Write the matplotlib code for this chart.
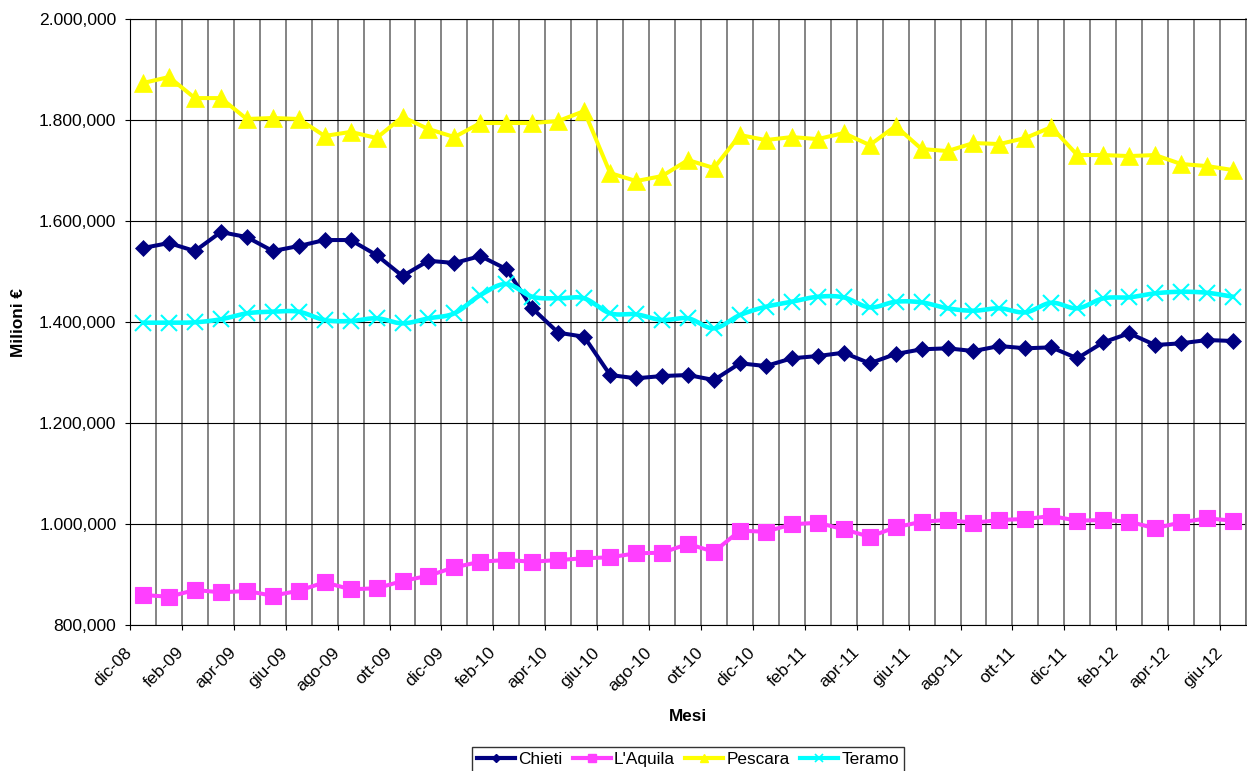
import numpy as np
import matplotlib
matplotlib.use('Agg')
import matplotlib.pyplot as plt
from matplotlib.lines import Line2D
from matplotlib.ticker import FuncFormatter

plt.rcParams['font.family'] = ['Liberation Sans', 'DejaVu Sans']

# one tick label every two months, dic-08 .. giu-12
tick_labels = ['dic-08', 'feb-09', 'apr-09', 'giu-09', 'ago-09', 'ott-09',
               'dic-09', 'feb-10', 'apr-10', 'giu-10', 'ago-10', 'ott-10',
               'dic-10', 'feb-11', 'apr-11', 'giu-11', 'ago-11', 'ott-11',
               'dic-11', 'feb-12', 'apr-12', 'giu-12']

# monthly values (milioni di euro), dic-08 .. giu-12
chieti = [1547.1, 1557.0, 1541.1, 1578.7, 1568.8, 1541.1, 1551.0, 1562.9, 1562.9, 1533.2,
          1491.6, 1521.9, 1517.4, 1531.2, 1505.5, 1427.7, 1379.4, 1371.4, 1295.6, 1289.1,
          1293.6, 1295.6, 1285.7, 1318.8, 1313.4, 1328.7, 1333.2, 1339.8, 1318.8, 1337.2,
          1346.5, 1348.5, 1343.1, 1353.0, 1348.5, 1350.4, 1328.7, 1360.3, 1378.2, 1355.0,
          1358.4, 1364.9, 1363.0]
laquila = [860.0, 856.6, 869.9, 865.3, 867.9, 858.6, 868.5, 885.1, 871.3, 873.3,
           887.7, 898.2, 914.8, 925.9, 929.3, 925.9, 929.3, 932.7, 934.6, 942.6,
           943.7, 961.0, 945.7, 987.3, 985.3, 1000.0, 1003.1, 990.1, 975.4, 994.0,
           1005.1, 1008.5, 1003.1, 1008.5, 1010.5, 1016.4, 1007.1, 1008.5, 1005.1, 992.1,
           1003.9, 1011.9, 1007.1]
pescara = [1873.8, 1885.7, 1844.0, 1844.0, 1802.6, 1804.6, 1802.6, 1769.0, 1777.0, 1765.0,
           1806.6, 1782.7, 1766.8, 1794.6, 1794.6, 1794.6, 1798.5, 1818.3, 1695.6, 1679.7,
           1689.6, 1721.3, 1705.5, 1770.8, 1760.9, 1766.8, 1762.8, 1774.8, 1751.0, 1788.6,
           1743.1, 1739.1, 1755.0, 1753.0, 1764.9, 1786.6, 1731.2, 1731.2, 1729.2, 1731.2,
           1713.4, 1709.4, 1701.5]
teramo = [1399.2, 1399.2, 1400.0, 1405.9, 1417.8, 1421.0, 1421.0, 1404.5, 1402.5, 1407.9,
          1398.0, 1407.9, 1417.8, 1454.0, 1475.8, 1450.6, 1447.5, 1447.5, 1417.8, 1415.8,
          1404.5, 1407.9, 1388.1, 1414.4, 1430.8, 1440.7, 1450.6, 1449.4, 1429.6, 1440.7,
          1439.5, 1427.7, 1422.9, 1427.7, 1419.7, 1438.7, 1427.7, 1447.5, 1449.4, 1457.4,
          1460.5, 1458.5, 1450.6]


def smooth(xs, ys, steps=16):
    # bezier smoothing like the spreadsheet "smoothed line" option
    px, py = [], []
    n = len(xs)
    for i in range(n - 1):
        i0, i3 = max(i - 1, 0), min(i + 2, n - 1)
        c1x = xs[i] + (xs[i + 1] - xs[i0]) / 6.0
        c1y = ys[i] + (ys[i + 1] - ys[i0]) / 6.0
        c2x = xs[i + 1] - (xs[i3] - xs[i]) / 6.0
        c2y = ys[i + 1] - (ys[i3] - ys[i]) / 6.0
        t = np.linspace(0, 1, steps, endpoint=(i == n - 2))
        a, b, c, d = (1 - t) ** 3, 3 * (1 - t) ** 2 * t, 3 * (1 - t) * t ** 2, t ** 3
        px.extend(a * xs[i] + b * c1x + c * c2x + d * xs[i + 1])
        py.extend(a * ys[i] + b * c1y + c * c2y + d * ys[i + 1])
    return px, py


x = np.arange(len(chieti)) + 0.5

fig = plt.figure(figsize=(12.47, 7.71), dpi=100)
ax = fig.add_axes([130 / 1247, 1 - 625.3 / 771, 1116 / 1247, (625.3 - 19.3) / 771])

navy, pink, yellow, cyan = '#000080', '#FF3FFF', '#FFFF00', '#00FFFF'

ax.plot(x, chieti, '-', color=navy, lw=2.9, marker='D', ms=7.8, mfc=navy, mec=navy, mew=0.5, zorder=3)
ax.plot(x, laquila, '-', color=pink, lw=2.9, marker='s', ms=11.5, mfc=pink, mec=pink, mew=0.8, zorder=3)
ax.plot(x, pescara, '-', color=yellow, lw=2.9, marker='^', ms=12.5, mfc=yellow, mec=yellow, mew=0.5, zorder=3)
sx, sy = smooth(x, teramo)
ax.plot(sx, sy, '-', color=cyan, lw=3.3, zorder=3)
ax.plot(x, teramo, linestyle='none', marker='x', ms=12, mec=cyan, mew=1.5, zorder=3)

ax.set_xlim(0, 43)
ax.set_ylim(800, 2000)
ax.set_yticks(np.arange(800, 2001, 200))
ax.yaxis.set_major_formatter(FuncFormatter(
    lambda v, p: f'{v:,.3f}'.replace(',', 'X').replace('.', ',').replace('X', '.')))
ax.set_xticks(np.arange(0, 43, 2))
ax.set_xticks(np.arange(0, 44, 1), minor=True)
ax.set_xticklabels(tick_labels, rotation=45, ha='right', va='center', rotation_mode='anchor')

ax.tick_params(axis='both', which='major', labelsize=12.6, length=3.8, width=0.8, color='black')
ax.tick_params(axis='x', which='major', pad=14)
ax.tick_params(axis='y', which='major', pad=6)
ax.tick_params(axis='x', which='minor', length=0)

ax.grid(axis='x', which='both', color='#707070', lw=1.2, zorder=0)
ax.grid(axis='y', which='major', color='black', lw=0.8, zorder=0)
ax.set_axisbelow(True)
for s in ['left', 'bottom', 'top']:
    ax.spines[s].set_color('black')
    ax.spines[s].set_linewidth(0.8)
ax.spines['right'].set_color('#707070')
ax.spines['right'].set_linewidth(1.2)

ax.set_xlabel('Mesi', fontsize=12.3, fontweight='bold')
ax.xaxis.set_label_coords(0.4996, -0.138)
ax.set_ylabel('Milioni €', fontsize=12.3, fontweight='bold')
ax.yaxis.set_label_coords(-0.093, 0.5)

handles = [
    Line2D([], [], color=navy, lw=3, marker='D', ms=4, mfc=navy, mec=navy),
    Line2D([], [], color=pink, lw=3, marker='s', ms=6, mfc=pink, mec=pink),
    Line2D([], [], color=yellow, lw=3, marker='^', ms=6, mfc=yellow, mec=yellow),
    Line2D([], [], color=cyan, lw=3, marker='x', ms=6, mec=cyan, mew=1.2),
]
leg = fig.legend(handles, ['Chieti', "L'Aquila", 'Pescara', 'Teramo'],
                 loc='upper center', bbox_to_anchor=(688 / 1247, 1 - 747 / 771),
                 ncol=4, fontsize=12.4, frameon=True, fancybox=False, shadow=False,
                 handlelength=2.2, handletextpad=0.2, columnspacing=0.6,
                 borderpad=0.3, borderaxespad=0)
leg.get_frame().set_edgecolor('black')
leg.get_frame().set_linewidth(1.0)

fig.savefig('out.png', dpi=100)
